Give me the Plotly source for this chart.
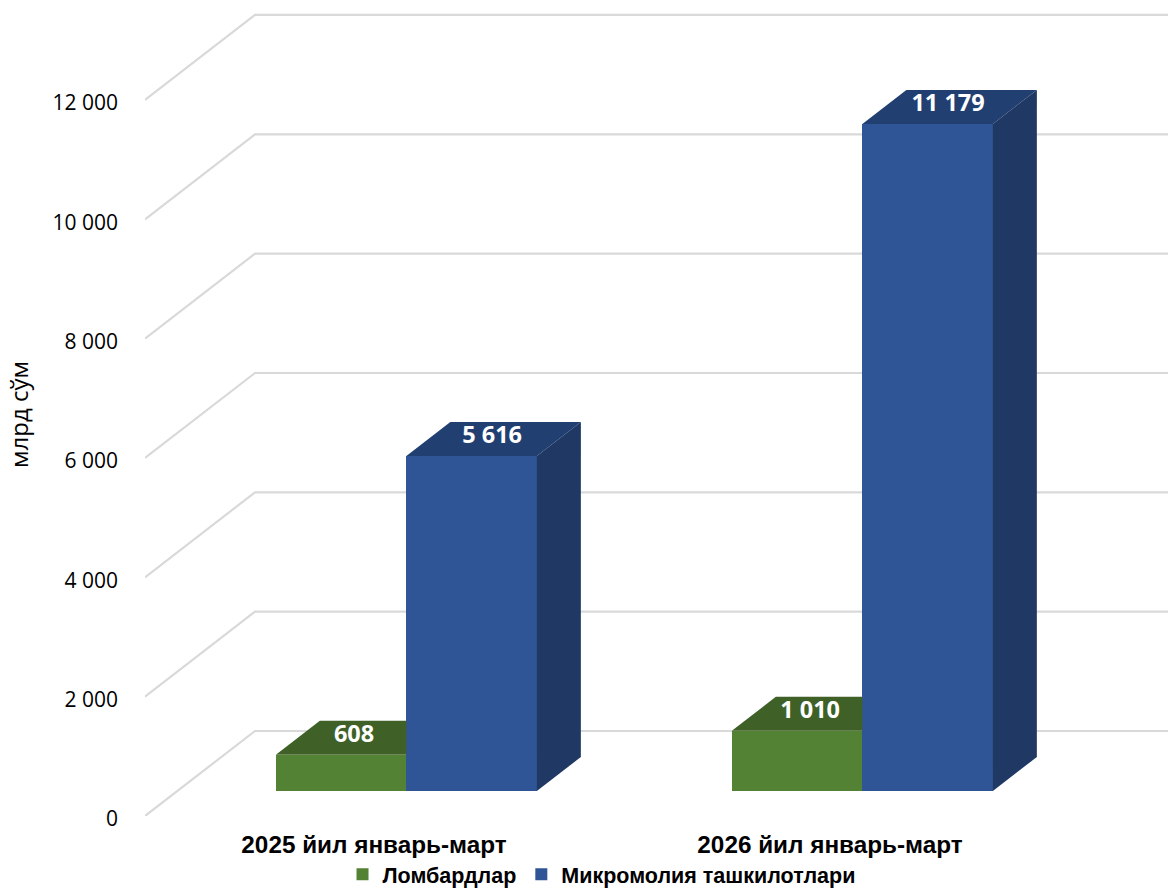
import plotly.graph_objects as go

categories = ["2025 йил январь-март", "2026 йил январь-март"]
lombard = [608, 1010]
micro = [5616, 11179]
series_names = ["Ломбардлар", "Микромолия ташкилотлари"]
tick_values = [0, 2000, 4000, 6000, 8000, 10000, 12000]
tick_labels = ["0", "2 000", "4 000", "6 000", "8 000", "10 000", "12 000"]

W, H = 1168, 890
L, R, T, B = 145, 0, 13, 74          # margins
PX_X = 456.0                         # px per category
PX_Y = 0.05967                       # px per value unit
X0 = -(374 - L) / PX_X
X_RANGE = [X0, X0 + (W - L - R) / PX_X]
Y_RANGE = [0, (H - T - B) / PX_Y]

# oblique projection (depth in px along the wall direction)
WALL_X, WALL_Y = 110 / PX_X, 85 / PX_Y
FLOOR_D = 25 / 85                    # bars' front plane, share of wall depth
BAR_D = 34 / 85                      # bar depth, share of wall depth
BAR_W = 130.5 / PX_X

fx, fy = FLOOR_D * WALL_X, FLOOR_D * WALL_Y
dx, dy = BAR_D * WALL_X, BAR_D * WALL_Y

GREEN, GREEN_TOP = "#548235", "#3f6128"
BLUE, BLUE_TOP, BLUE_SIDE = "#2f5597", "#223f71", "#1f3864"
GRID = "#d9d9d9"
FONT = "Open Sans"
BOLD = "Liberation Sans"

fig = go.Figure()

# floor and wall gridlines
gx, gy = [], []
for v in tick_values:
    gx += [X_RANGE[0], X_RANGE[0] + WALL_X, X_RANGE[1], None]
    gy += [v, v + WALL_Y, v + WALL_Y, None]
fig.add_trace(go.Scatter(x=gx, y=gy, mode="lines", line=dict(color=GRID, width=2.2),
                         showlegend=False, hoverinfo="skip", xaxis="x", yaxis="y"))


def poly(xs, ys, color):
    fig.add_trace(go.Scatter(x=xs, y=ys, mode="lines", fill="toself", fillcolor=color,
                             line=dict(width=0), showlegend=False, hoverinfo="skip",
                             xaxis="x2", yaxis="y2"))


green_x = [i + fx - BAR_W / 2 for i in range(len(categories))]
blue_x = [i + fx + BAR_W / 2 for i in range(len(categories))]

fig.add_trace(go.Bar(x=green_x, y=lombard, base=[fy] * 2, width=BAR_W, name=series_names[0],
                     marker=dict(color=GREEN, line=dict(width=0)), xaxis="x2", yaxis="y2"))
fig.add_trace(go.Bar(x=blue_x, y=micro, base=[fy] * 2, width=BAR_W, name=series_names[1],
                     marker=dict(color=BLUE, line=dict(width=0)), xaxis="x2", yaxis="y2"))

for i in range(len(categories)):
    # green top is hidden behind the blue bar past the blue front edge
    xl, xr = green_x[i] - BAR_W / 2, green_x[i] + BAR_W / 2
    top = lombard[i] + fy
    poly([xl, xl + dx, xr, xr, xl], [top, top + dy, top + dy, top, top], GREEN_TOP)
    # blue top and side
    xl, xr = blue_x[i] - BAR_W / 2, blue_x[i] + BAR_W / 2
    top = micro[i] + fy
    poly([xl, xl + dx, xr + dx, xr, xl], [top, top + dy, top + dy, top, top], BLUE_TOP)
    poly([xr, xr + dx, xr + dx, xr, xr], [top, top + dy, fy + dy, fy, top], BLUE_SIDE)

# value labels, on the top faces
def fmt(v):
    return f"{v:,}".replace(",", " ")

GREEN_LABEL_SHIFT = 9 / PX_X
BLUE_LABEL_SHIFT = 1.5 / PX_X
LABEL_LIFT = 2 / PX_Y
lx = [x + dx / 2 - GREEN_LABEL_SHIFT for x in green_x] + [x + dx / 2 - BLUE_LABEL_SHIFT for x in blue_x]
ly = [v + fy + dy / 2 + LABEL_LIFT for v in lombard] + [v + fy + dy / 2 + LABEL_LIFT for v in micro]
lt = [fmt(v) for v in lombard] + [fmt(v) for v in micro]
fig.add_trace(go.Scatter(x=lx, y=ly, mode="text", text=lt, textposition="middle center",
                         textfont=dict(family=FONT, size=23.5, color="#ffffff", weight="bold"),
                         showlegend=False, hoverinfo="skip", xaxis="x2", yaxis="y2"))

fig.update_layout(
    width=W, height=H,
    margin=dict(l=L, r=R, t=T, b=B, autoexpand=False),
    paper_bgcolor="#ffffff", plot_bgcolor="#ffffff",
    barmode="overlay", bargap=0,
    showlegend=True,
    legend=dict(orientation="h", x=0.515, xref="container", xanchor="center",
                y=-0.047, yref="paper", yanchor="top",
                font=dict(family=BOLD, size=21.5, color="#000000", weight="bold"),
                traceorder="normal", itemwidth=30, bgcolor="rgba(0,0,0,0)"),
    xaxis=dict(range=X_RANGE, tickvals=list(range(len(categories))), ticktext=categories,
               tickfont=dict(family=BOLD, size=24.3, color="#000000", weight="bold"),
               showgrid=False, zeroline=False, showline=False, ticks="", ticklabelstandoff=12),
    yaxis=dict(range=Y_RANGE, tickvals=tick_values, ticktext=tick_labels,
               tickfont=dict(family=FONT, size=21, color="#000000"),
               showgrid=False, zeroline=False, showline=False, ticks="", ticklabelstandoff=26,
               ticklabelshift=3,
               title=dict(text="млрд сўм", font=dict(family=FONT, size=24, color="#000000"),
                          standoff=17)),
    xaxis2=dict(range=X_RANGE, overlaying="x", anchor="y2", visible=False),
    yaxis2=dict(range=Y_RANGE, overlaying="y", anchor="x2", visible=False),
)

fig.write_html("out.html", config={"displayModeBar": False},
               post_script="document.body.style.margin='0';")
